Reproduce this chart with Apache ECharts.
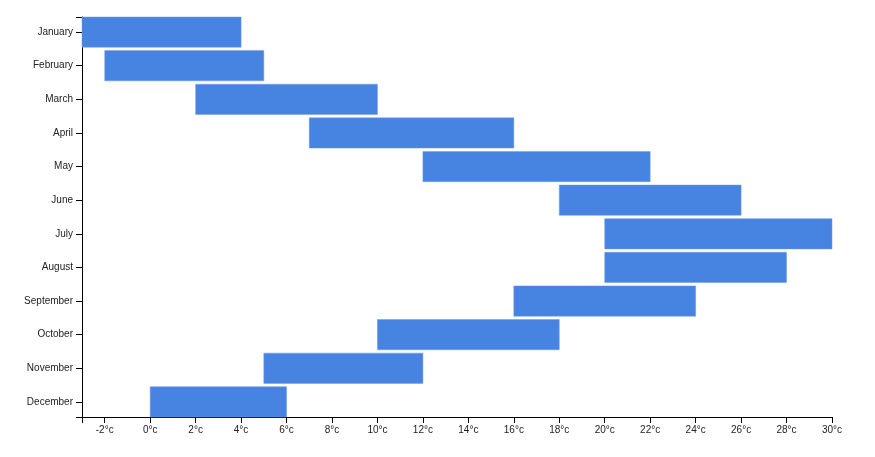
<!DOCTYPE html>
<html>
<head>
<meta charset="utf-8">
<script src="https://cdn.jsdelivr.net/npm/echarts@6/dist/echarts.min.js"></script>
<style>html,body{margin:0;padding:0;background:#fff}#c{width:875px;height:457px}</style>
</head>
<body>
<div id="c"></div>
<script>
const months = ['January','February','March','April','May','June','July','August','September','October','November','December'];
const minTemps = [-3, -2, 2, 7, 12, 18, 20, 20, 16, 10, 5, 0];
const maxTemps = [4, 5, 10, 16, 22, 26, 30, 28, 24, 18, 12, 6];
const xTickLabels = [-2, 0, 2, 4, 6, 8, 10, 12, 14, 16, 18, 20, 22, 24, 26, 28, 30];

const chart = echarts.init(document.getElementById('c'), null, {renderer: 'canvas'});
const data = months.map((m, i) => [i, minTemps[i], maxTemps[i]]);
const monthIdx = months.map((m, i) => i);
const yMin = -0.45, yMax = 11.45;
const xMin = -3, xMax = 30;

chart.setOption({
  animation: false,
  grid: {left: 82, right: 43, top: 17, bottom: 40},
  xAxis: {
    type: 'value', min: xMin, max: xMax,
    splitLine: {show: false},
    axisLine: {show: true, onZero: false, lineStyle: {color: '#000', width: 1}},
    axisTick: {show: true, length: 6, lineStyle: {color: '#000'}, customValues: [xMin].concat(xTickLabels)},
    axisLabel: {customValues: xTickLabels, formatter: v => v + '°c', color: '#222', fontSize: 10, fontFamily: 'Liberation Sans', margin: 8}
  },
  yAxis: {
    type: 'value', inverse: true, min: yMin, max: yMax,
    splitLine: {show: false},
    axisLine: {show: true, onZero: false, lineStyle: {color: '#000', width: 1}},
    axisTick: {show: true, length: 6, lineStyle: {color: '#000'}, customValues: [yMin].concat(monthIdx, [yMax])},
    axisLabel: {customValues: monthIdx, formatter: v => months[Math.round(v)] || '', color: '#222', fontSize: 10, fontFamily: 'Liberation Sans', margin: 9}
  },
  series: [{
    type: 'custom',
    data: data,
    encode: {x: [1, 2], y: 0},
    renderItem: function (params, api) {
      const y = api.value(0);
      const s = api.coord([api.value(1), y]);
      const e = api.coord([api.value(2), y]);
      const h = api.size([0, 1])[1] * 0.9;
      return {
        type: 'rect',
        shape: {x: s[0], y: s[1] - h / 2, width: e[0] - s[0], height: h},
        style: {fill: '#4783E0', stroke: '#6C9BE6', lineWidth: 0.5}
      };
    }
  }]
});
</script>
</body>
</html>
